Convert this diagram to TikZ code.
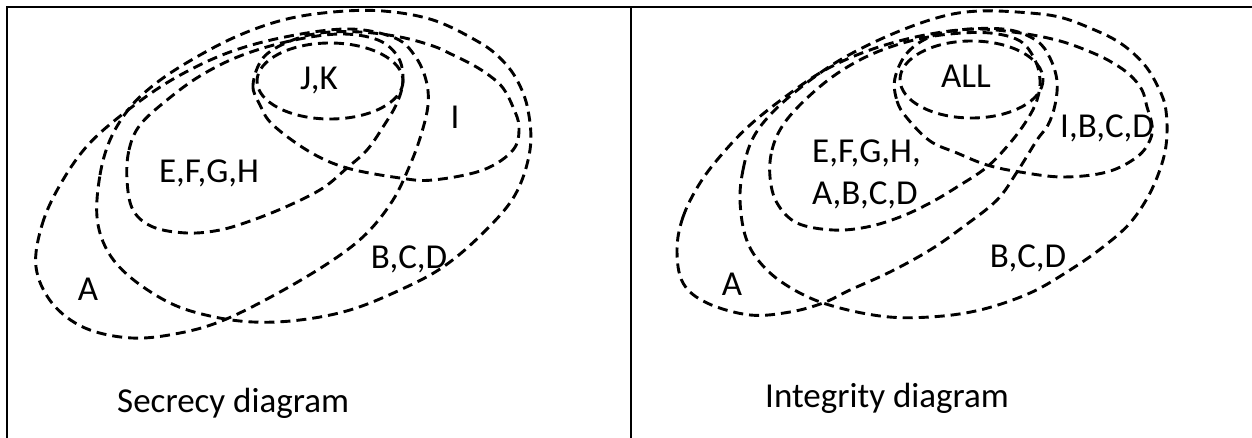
\documentclass[tikz,border=0pt]{standalone}
\usepackage{fontspec}
\setmainfont{Carlito}
\begin{document}
\begin{tikzpicture}[x=1pt,y=-1pt,
  venn/.style={line width=2.9pt, dash pattern=on 10pt off 6pt, line join=round},
  frameline/.style={line width=2pt},
  lbl/.style={font=\fontsize{35}{42}\selectfont, inner sep=0pt, anchor=base},
  lbll/.style={lbl, anchor=base west}]
\useasboundingbox (0,0) rectangle (1252,438);
\fill[white] (0,0) rectangle (1252,438);
% frame
\draw[frameline] (7,438) -- (7,7) -- (1252,7);
\draw[frameline] (631,7) -- (631,438);

% ---------- left panel ----------
% A
\draw[venn] plot[smooth cycle, tension=0.6] coordinates {(36,267) (42,225) (60,185) (88,145) (128,110) (175,78) (230,52) (290,36) (350,29) (395,38) (415,56) (426,80) (428,105) (421,135) (410,165) (393,200) (367,233) (333,260) (280,292) (224,320) (180,333) (132,338) (85,328) (52,303)};
% B,C,D
\draw[venn] plot[smooth cycle, tension=0.6] coordinates {(97,217) (100,175) (110,140) (128,110) (150,88) (183,65) (233,38) (283,20) (333,12) (383,11) (433,20) (477,41) (500,58) (517,80) (528,110) (530,150) (515,195) (483,233) (443,267) (400,290) (350,310) (300,320) (253,322) (210,316) (170,303) (130,277) (107,250)};
% E,F,G,H
\draw[venn] plot[smooth cycle, tension=0.6] coordinates {(127,180) (129,150) (140,125) (167,100) (200,76) (240,56) (290,41) (340,34) (378,40) (398,57) (403,80) (397,103) (383,127) (367,150) (347,168) (323,188) (290,205) (253,220) (220,230) (187,233) (153,227) (133,210)};
% I
\draw[venn] plot[smooth cycle, tension=0.6] coordinates {(263,58) (253,85) (260,105) (273,125) (310,152) (347,168) (400,178) (433,180) (483,170) (513,150) (519,127) (513,107) (503,88) (490,76) (473,65) (453,55) (433,46) (400,37) (360,32) (320,33) (288,42)};
% J,K
\draw[venn] (330,81) ellipse [x radius=73, y radius=38];

\node[lbl] (jk) at (319,90) {J,K};
\node[lbl] (il) at (455,129) {I};
\node[lbl] (efgh) at (209,183) {E,F,G,H};
\node[lbl] (bcdl) at (409,269) {B,C,D};
\node[lbl] (al) at (88,300) {A};
\node[lbll] (sec) at (117,412) {Secrecy diagram};

% ---------- right panel ----------
% A
\draw[venn] plot[smooth cycle, tension=0.6] coordinates {(677,250) (683,217) (700,183) (723,153) (750,125) (785,97) (825,70) (870,50) (920,36) (970,29) (1010,30) (1037,41) (1050,58) (1057,81) (1055,105) (1048,125) (1037,140) (1017,172) (997,200) (963,227) (930,250) (890,272) (850,290) (823,303) (790,312) (750,315) (707,303) (683,283)};
% B,C,D
\draw[venn] plot[smooth cycle, tension=0.6] coordinates {(740,200) (743,170) (752,140) (770,115) (800,88) (840,60) (890,35) (940,17) (980,11) (1030,13) (1063,18) (1097,31) (1117,41) (1133,53) (1147,68) (1157,85) (1165,105) (1167,133) (1163,160) (1150,193) (1130,223) (1103,247) (1070,270) (1030,293) (980,310) (930,317) (880,316) (823,303) (783,283) (758,260) (745,235)};
% E,F,G,H,A,B,C,D
\draw[venn] plot[smooth cycle, tension=0.6] coordinates {(770,177) (772,150) (783,125) (805,100) (835,75) (870,55) (910,41) (950,34) (990,33) (1020,41) (1035,60) (1040,80) (1037,100) (1027,120) (1010,143) (987,167) (957,187) (930,203) (900,217) (867,227) (833,230) (797,223) (777,203)};
% I,B,C,D
\draw[venn] plot[smooth cycle, tension=0.6] coordinates {(895,78) (897,101) (907,118) (930,141) (957,153) (987,165) (1020,172) (1063,177) (1107,172) (1137,157) (1150,140) (1152,125) (1147,107) (1142,90) (1130,75) (1113,63) (1093,53) (1060,41) (1020,33) (975,29) (935,35) (908,52)};
% ALL
\draw[venn] (971.5,79.5) ellipse [x radius=71.5, y radius=38.5];

\node[lbl] (all) at (966,88) {ALL};
\node[lbl] (ibcd) at (1107,138) {I,B,C,D};
\node[lbll] (efgh2) at (812,163) {E,F,G,H,};
\node[lbll] (abcd) at (812,205) {A,B,C,D};
\node[lbl] (bcdr) at (1028,268) {B,C,D};
\node[lbl] (ar) at (732,295) {A};
\node[lbll] (integ) at (765,407) {Integrity diagram};
\end{tikzpicture}
\end{document}
